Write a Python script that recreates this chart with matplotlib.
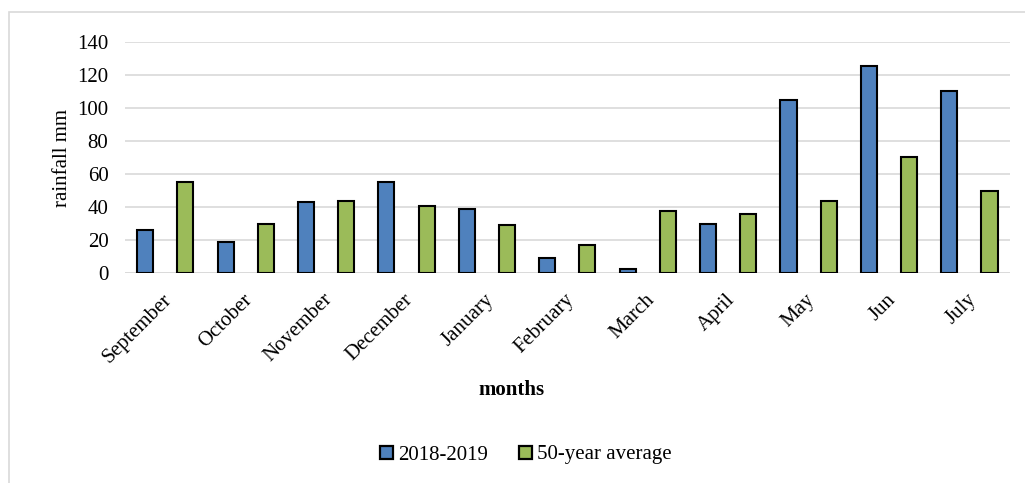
import matplotlib
matplotlib.use('Agg')
import numpy as np
import matplotlib.pyplot as plt
import matplotlib.transforms as mtransforms
from matplotlib.patches import Rectangle

# Monthly rainfall values (mm)
months = ['September', 'October', 'November', 'December', 'January', 'February',
          'March', 'April', 'May', 'Jun', 'July']
rain_2018_2019 = [26, 19, 43, 55, 39, 9.5, 2.6, 30, 105, 125.5, 110]
rain_50yr_avg = [55, 30, 44, 41, 29.5, 17, 37.5, 36, 44, 70.5, 50]
series_labels = ['2018-2019', '50-year average']

plt.rcParams['font.family'] = ['Liberation Serif', 'DejaVu Serif']
fs = 15

fig = plt.figure(figsize=(10.25, 4.83), dpi=100)
ax = fig.add_axes([0.122, 0.434, 0.863, 0.4796])

x = np.arange(len(months))
w = 0.2
ax.bar(x - 0.25, rain_2018_2019, w, color='#4f81bd', edgecolor='black',
       linewidth=1.5, label=series_labels[0], zorder=3)
ax.bar(x + 0.25, rain_50yr_avg, w, color='#9bbb59', edgecolor='black',
       linewidth=1.5, label=series_labels[1], zorder=3)

ax.set_xlim(-0.5, len(months) - 0.5)
ax.set_ylim(0, 140)
ax.set_yticks(range(0, 141, 20))
ax.yaxis.grid(True, color='#d9d9d9', linewidth=1.2, zorder=0)
ax.set_axisbelow(True)
for s in ax.spines.values():
    s.set_visible(False)
ax.axhline(0, color='#d9d9d9', linewidth=1.2, zorder=1)

ax.set_xticks(x)
ax.set_xticklabels(months, rotation=45, ha='right', rotation_mode='anchor',
                   fontsize=fs)
ax.tick_params(axis='both', length=0, labelsize=fs)
ax.tick_params(axis='x', pad=12)
ax.tick_params(axis='y', pad=12)
# nudge month labels a little to the left, like the original
shift = mtransforms.ScaledTranslation(-3 / 100, 0, fig.dpi_scale_trans)
for lab in ax.get_xticklabels():
    lab.set_transform(lab.get_transform() + shift)

ax.set_ylabel('rainfall mm', fontsize=fs, labelpad=4)
fig.text(0.499, 1 - 390 / 483, 'months', fontsize=fs, fontweight='bold',
         ha='center', va='center')

leg = fig.legend(loc='center', bbox_to_anchor=(0.513, 1 - 455 / 483), ncol=2,
                 frameon=False, fontsize=fs, handlelength=0.6, handleheight=0.6,
                 handletextpad=0.25, columnspacing=1.5)
for h in leg.legend_handles:
    h.set_linewidth(1.6)

# light frame around the chart area
fig.patches.append(Rectangle((9 / 1025, -0.05), 1.1, 1 - 12 / 483 + 0.05,
                             transform=fig.transFigure, fill=False,
                             edgecolor='#d9d9d9', linewidth=1.2))

fig.savefig('out.png', dpi=100)
